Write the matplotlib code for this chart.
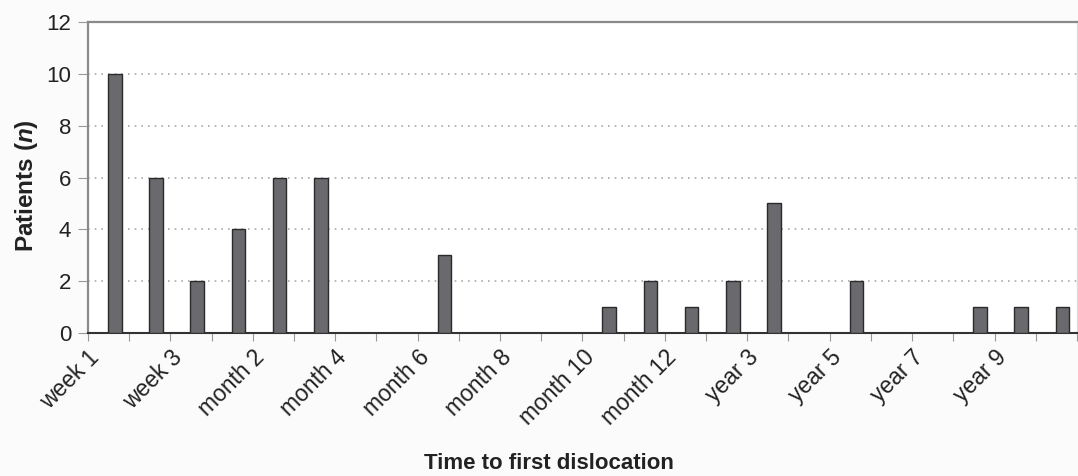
import numpy as np
import matplotlib
matplotlib.use("Agg")
import matplotlib.pyplot as plt

plt.rcParams['font.family'] = ['Liberation Sans', 'DejaVu Sans']
plt.rcParams['mathtext.fontset'] = 'custom'
plt.rcParams['mathtext.it'] = 'Liberation Sans:bold:italic'
plt.rcParams['mathtext.rm'] = 'Liberation Sans:bold'

categories = (["week %d" % i for i in range(1, 5)]
              + ["month %d" % i for i in range(2, 13)]
              + ["year %d" % i for i in range(2, 11)])
patients = [10, 6, 2, 4, 6, 6, 0, 0, 3, 0, 0, 0, 1, 2, 1, 2, 5, 0, 2, 0, 0, 1, 1, 1]
yticks = [0, 2, 4, 6, 8, 10, 12]

fig = plt.figure(figsize=(10.78, 4.76), dpi=100)
fig.patch.set_facecolor('#fbfbfb')
ax = fig.add_axes([0.0816, 0.3004, 0.9174, 0.6534])
ax.set_facecolor('white')

x = np.arange(len(categories))
ax.bar(x + 0.65, patients, width=0.33, color='#6a6a6e', edgecolor='#2a2a2a',
       linewidth=1.0, zorder=3)

ax.set_xlim(0, len(categories))
ax.set_ylim(0, 12)
ax.set_xticks(np.arange(len(categories) + 1))
ax.set_xticklabels([c if i % 2 == 0 else "" for i, c in enumerate(categories)] + [""],
                   rotation=45, ha='right', rotation_mode='anchor', fontsize=16.5,
                   color='#222222')
ax.set_yticks(yticks)
ax.set_yticklabels([str(v) for v in yticks], fontsize=16, color='#222222')
ax.tick_params(axis='x', length=6, color='#999999', pad=3)
ax.tick_params(axis='y', length=7, color='#999999', pad=5)

ax.yaxis.grid(True, linestyle=(0, (1, 3)), color='#aaaaaa', linewidth=1.2, zorder=0)
for sp in ['left', 'top', 'right']:
    ax.spines[sp].set_color('#8a8a8a')
    ax.spines[sp].set_linewidth(1.6)
ax.spines['right'].set_linewidth(1.0)
ax.spines['right'].set_color('#dddddd')
ax.spines['bottom'].set_color('#333333')
ax.spines['bottom'].set_linewidth(1.5)

ax.set_ylabel(r'Patients ($\it{n}$)', fontsize=17.5, fontweight='bold',
              color='#222222')
ax.yaxis.set_label_coords(-0.049, 0.475)
fig.text(0.509, 0.027, 'Time to first dislocation', ha='center', va='center',
         fontsize=16, fontweight='bold', color='#222222')

fig.savefig('out.png', dpi=100, facecolor=fig.get_facecolor())
